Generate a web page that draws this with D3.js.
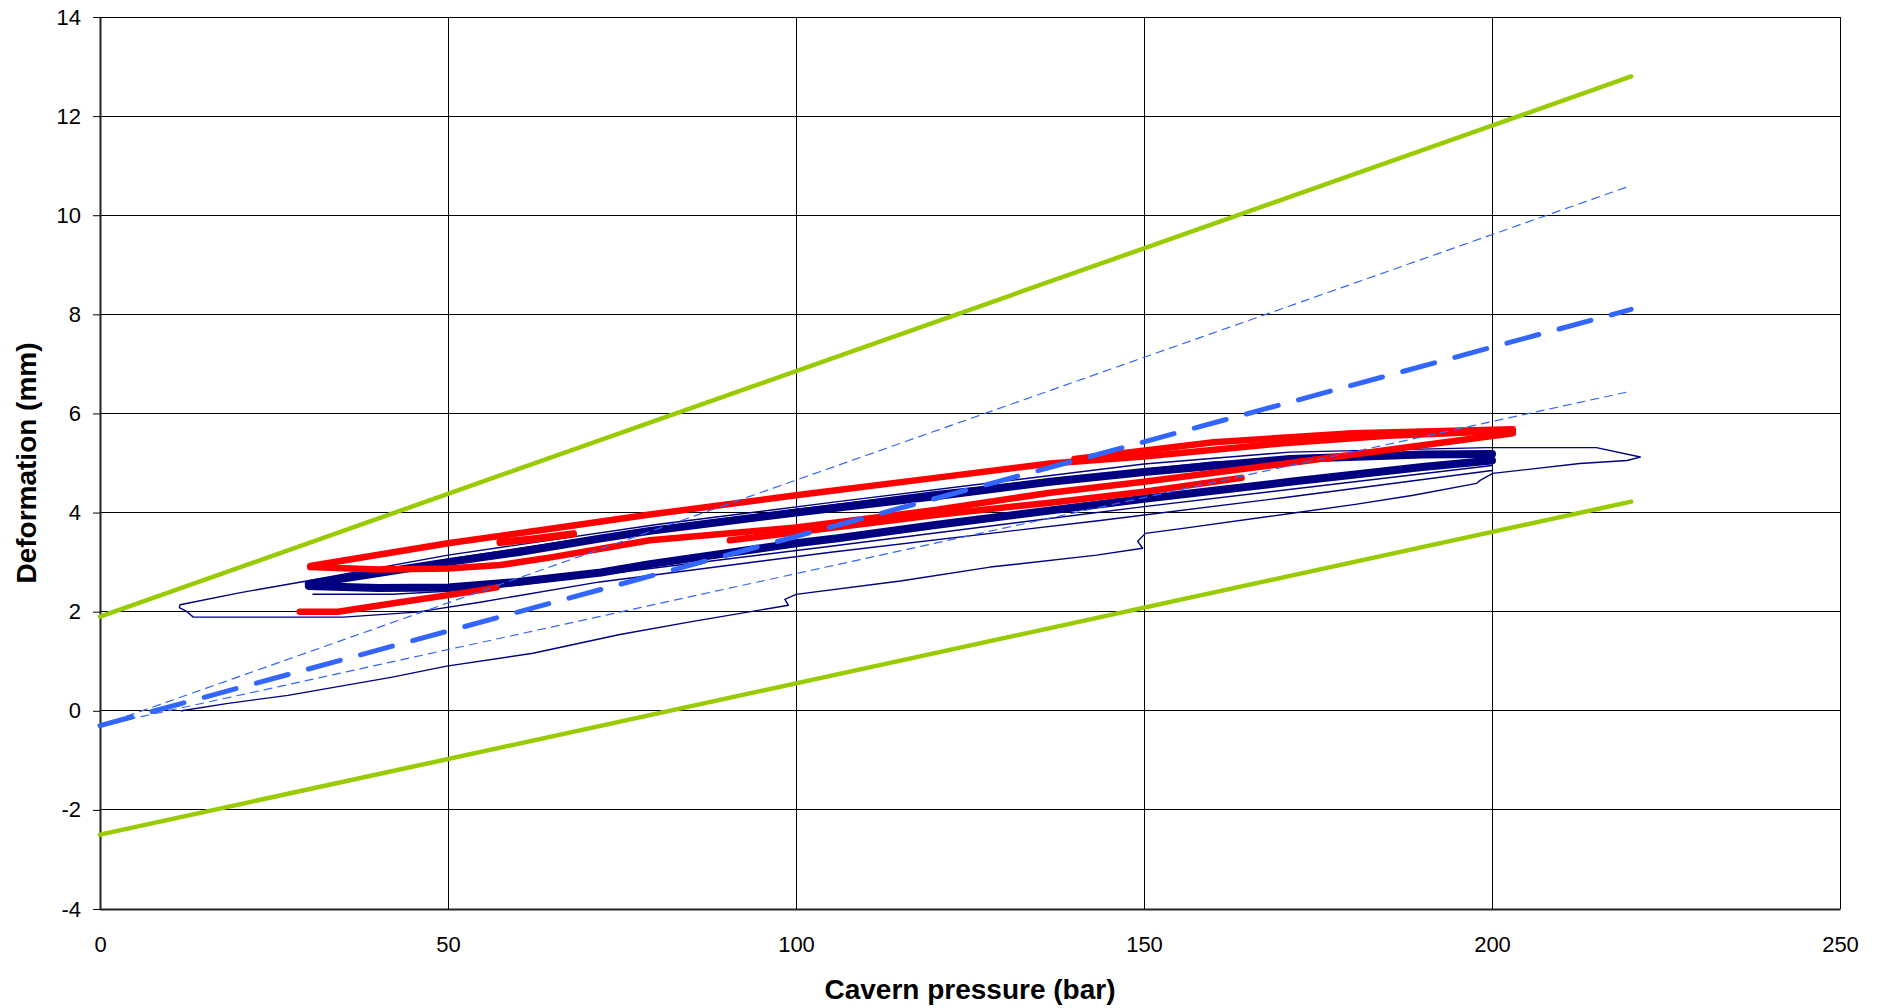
<!DOCTYPE html>
<html lang="en">
<meta charset="UTF-8">
<style>
    body { margin: 0; background: #fff; }
    text { font-family: "Liberation Sans", Arial, sans-serif; fill: #000; }
    .grid { stroke: #000; stroke-width: 1px; shape-rendering: crispEdges; }
    .series { fill: none; stroke-linejoin: round; stroke-linecap: round; }
</style>
<body>
<svg id="chart" width="1879" height="1008"></svg>
<script src="https://d3js.org/d3.v7.min.js"></script>
<script>
// axis ticks
const xTicks = [0, 50, 100, 150, 200, 250];
const yTicks = [-4, -2, 0, 2, 4, 6, 8, 10, 12, 14];

// measured data: [cavern pressure (bar), deformation (mm)]
// navy: first loading, unloading and reloading (thin)
const navyFirst = [[11.7,0.0],[18.4,0.15],[27,0.31],[42,0.68],[49.8,0.9],[62.2,1.16],[74.7,1.54],[85,1.8],[98.9,2.13],[98.4,2.25],[100,2.35],[115,2.62],[127.9,2.9],[143.2,3.14],[149.8,3.28],[149.1,3.42],[150.2,3.58],[155.6,3.68],[171,3.98],[180.6,4.17],[188.7,4.35],[197.8,4.59],[198.3,4.65],[200.1,4.79],[212.6,4.99],[219.4,5.05],[221.3,5.12],[215,5.31],[199.3,5.31],[171,5.22],[150,4.98],[106,4.22],[80,3.76],[50,3.14],[29.7,2.62],[20,2.38],[11.5,2.14],[11.4,2.08],[12.5,2.0],[13.4,1.89],[35,1.89],[45.5,1.99],[54.6,2.19],[71.8,2.6],[105,3.2],[143.7,3.84],[170,4.3],[200,4.85]];
const navyThinMid = [[30.6,2.35],[42,2.35],[55,2.45],[75,2.8],[105,3.32],[150,4.12],[200,4.95]];
const navyThinTop = [[31,2.6],[50,3.06],[80,3.7],[120,4.42],[160,5.02],[200,5.24]];
// navy: repeated cycles (thick bands)
const navyUpper = [[30,2.56],[40,2.78],[50,3.0],[60,3.2],[72,3.48],[79,3.63],[100,4.0],[120,4.33],[136.5,4.62],[150,4.82],[171,5.08],[190,5.17],[200,5.18]];
const navyLower = [[30,2.52],[40,2.48],[50,2.49],[60,2.6],[72,2.79],[79,2.96],[100,3.38],[106,3.48],[120,3.75],[150,4.28],[171,4.62],[190,4.92],[200,5.05]];

// red: second measurement series
const redUpper = [[30.2,2.92],[40,3.15],[50,3.38],[65,3.68],[79,3.96],[100,4.35],[120,4.7],[136.5,4.99],[150,5.13],[170,5.4],[185,5.55],[203,5.65]];
const redUpperB = [[140,5.08],[160,5.42],[180,5.6],[203,5.68]];
const redMiddle = [[30.2,2.9],[40,2.85],[50,2.87],[57.5,2.94],[65,3.1],[79,3.44],[100,3.7],[120,4.05],[136.5,4.4],[150,4.62],[171,5.0],[190,5.36],[203,5.6]];
const redInner = [[90.5,3.44],[100,3.6],[120,3.95],[136.5,4.2],[150,4.42],[164,4.7]];
const redShort = [[57.5,3.4],[62,3.46],[68,3.57]];
const redLow = [[28.7,2.0],[34.2,2.0],[43.1,2.19],[52.7,2.39],[57,2.49]];

// regression line and bounds
const trendMean = [[0,-0.3],[220,8.1]];
const trendHigh = [[0,-0.3],[220,10.6]];
const trendLow = [[0,-0.3],[220,6.45]];
const envUpper = [[0,1.9],[220,12.8]];
const envLower = [[0,-2.5],[220,4.22]];

const svg = d3.select('#chart');
const margin = {top: 17, right: 39, bottom: 99, left: 100};
const width = 1879, height = 1008;

const x = d3.scaleLinear().domain([0, 250]).range([margin.left, width - margin.right]);
const y = d3.scaleLinear().domain([-4, 14]).range([height - margin.bottom, margin.top]);

// grid
svg.append('g').selectAll('line').data(yTicks)
    .enter().append('line')
    .attr('class', 'grid')
    .attr('x1', x(0)).attr('x2', x(250))
    .attr('y1', d => y(d)).attr('y2', d => y(d));
svg.append('g').selectAll('line').data(xTicks)
    .enter().append('line')
    .attr('class', 'grid')
    .attr('x1', d => x(d)).attr('x2', d => x(d))
    .attr('y1', y(-4)).attr('y2', y(14));

// axes (plain hyphen for negatives, as in the original)
const yAxis = svg.append('g')
    .attr('transform', `translate(${x(0)},0)`)
    .call(d3.axisLeft(y).tickValues(yTicks).tickFormat(d => String(d)).tickSize(7).tickSizeOuter(0).tickPadding(12));
const xAxis = svg.append('g')
    .attr('transform', `translate(0,${y(-4)})`)
    .call(d3.axisBottom(x).tickValues(xTicks).tickFormat(d => String(d)).tickSize(0).tickPadding(27));
[xAxis, yAxis].forEach(a => {
    a.selectAll('text').attr('font-size', '22px').attr('font-family', '"Liberation Sans", Arial, sans-serif').attr('fill', '#000');
    a.selectAll('line').attr('stroke', '#000');
    a.select('.domain').attr('stroke', '#222').attr('stroke-width', 2);
});

const line = d3.line().x(d => x(d[0])).y(d => y(d[1]));

function draw(data, color, w, dash) {
    const p = svg.append('path')
        .datum(data)
        .attr('class', 'series')
        .attr('d', line)
        .attr('stroke', color)
        .attr('stroke-width', w);
    if (dash) p.attr('stroke-dasharray', dash).attr('stroke-linecap', 'butt');
    return p;
}

// navy
draw(navyUpper, '#000080', 8);
draw(navyLower, '#000080', 8);
draw(navyFirst, '#000080', 1.4);
draw(navyThinMid, '#000080', 1.4);
draw(navyThinTop, '#000080', 1.4);

// red
draw(redLow, '#ff0000', 6.5);
draw(redShort, '#ff0000', 7.5);
draw(redInner, '#ff0000', 6.5);
draw(redMiddle, '#ff0000', 6.5);
draw(redUpperB, '#ff0000', 6.5);
draw(redUpper, '#ff0000', 6.5);

// trend lines
draw(trendHigh, '#3366ff', 1.2, '8,6');
draw(trendLow, '#3366ff', 1.2, '8,6');
draw(trendMean, '#3366ff', 5, '33,21');
draw(envUpper, '#99cc00', 4.5);
draw(envLower, '#99cc00', 4.5);

// titles
svg.append('text')
    .attr('x', (x(0) + x(250)) / 2)
    .attr('y', 999)
    .attr('text-anchor', 'middle')
    .attr('font-size', '28px')
    .attr('font-weight', 'bold')
    .text('Cavern pressure (bar)');

svg.append('text')
    .attr('transform', `translate(36,${(y(-4) + y(14)) / 2}) rotate(-90)`)
    .attr('text-anchor', 'middle')
    .attr('font-size', '28px')
    .attr('font-weight', 'bold')
    .text('Deformation (mm)');
</script>
</body>
</html>
